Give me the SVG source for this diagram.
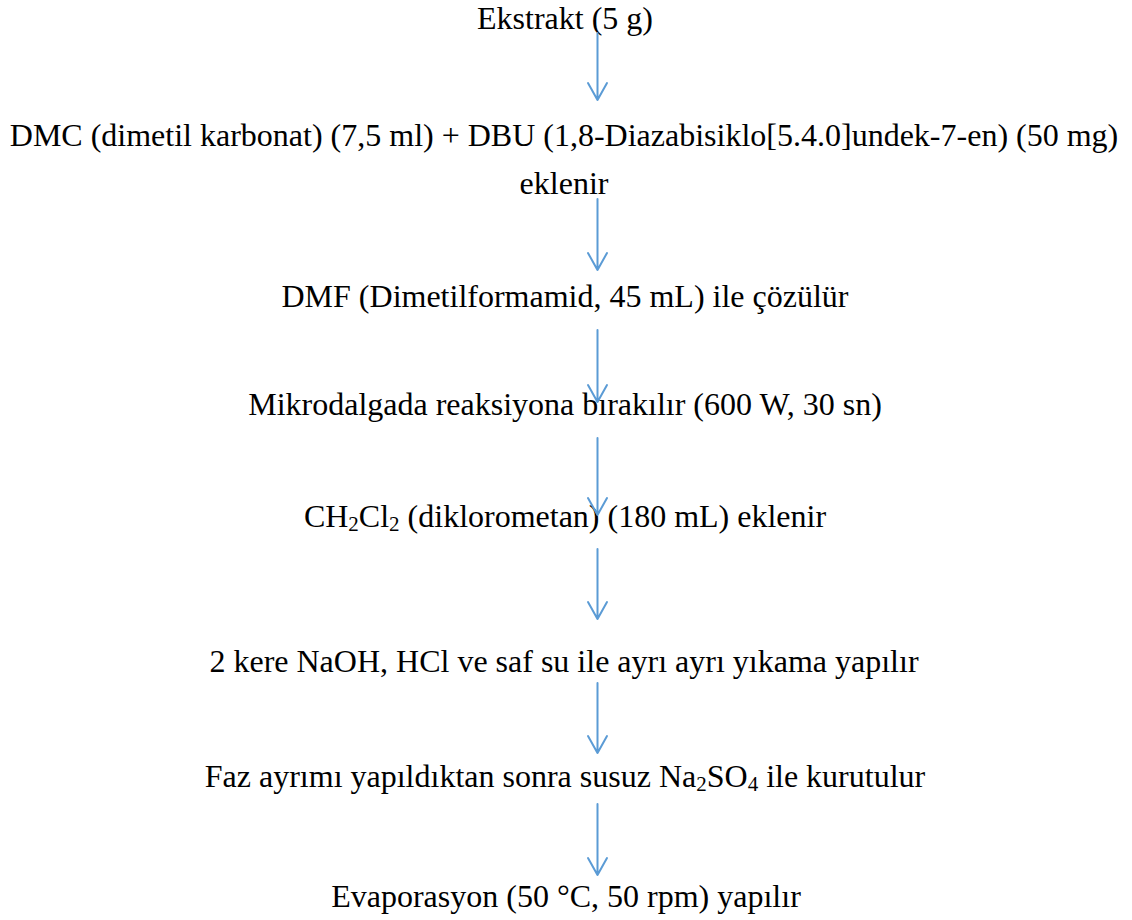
<svg xmlns="http://www.w3.org/2000/svg" width="1132" height="920" viewBox="0 0 1132 920">
<style>
.t{font-family:"Liberation Serif","Times New Roman",serif;font-size:32px;fill:#000;text-anchor:middle}
.s{font-size:21px}
.a{fill:none;stroke:#5B9BD5;stroke-width:2;stroke-linecap:round;stroke-linejoin:round}
</style>
<rect width="1132" height="920" fill="#fff"/>
<g id="n1"><text class="t" x="565" y="29">Ekstrakt (5 g)</text></g>
<g id="n2"><text class="t" x="564" y="146">DMC (dimetil karbonat) (7,5 ml) + DBU (1,8-Diazabisiklo[5.4.0]undek-7-en) (50 mg)</text>
<text class="t" x="564" y="194">eklenir</text></g>
<g id="n3"><text class="t" x="565" y="307">DMF (Dimetilformamid, 45 mL) ile çözülür</text></g>
<g id="n4"><text class="t" x="565" y="415">Mikrodalgada reaksiyona bırakılır (600 W, 30 sn)</text></g>
<g id="n5"><text class="t" x="565" y="527">CH<tspan class="s" dy="4">2</tspan><tspan dy="-4">Cl</tspan><tspan class="s" dy="4">2</tspan><tspan dy="-4"> (diklorometan) (180 mL) eklenir</tspan></text></g>
<g id="n6"><text class="t" x="564" y="672">2 kere NaOH, HCl ve saf su ile ayrı ayrı yıkama yapılır</text></g>
<g id="n7"><text class="t" x="565" y="787">Faz ayrımı yapıldıktan sonra susuz Na<tspan class="s" dy="4">2</tspan><tspan dy="-4">SO</tspan><tspan class="s" dy="4">4</tspan><tspan dy="-4"> ile kurutulur</tspan></text></g>
<g id="n8"><text class="t" x="566" y="907">Evaporasyon (50 °C, 50 rpm) yapılır</text></g>
<g id="connectors">
<path class="a" d="M597.5 33V100M588 83L597.5 100L607 83"/>
<path class="a" d="M597.5 199V270M588 253L597.5 270L607 253"/>
<path class="a" d="M597.5 330V402M588 385L597.5 402L607 385"/>
<path class="a" d="M597.5 438V515M588 498L597.5 515L607 498"/>
<path class="a" d="M597.5 549V619M588 602L597.5 619L607 602"/>
<path class="a" d="M597.5 683V753M588 736L597.5 753L607 736"/>
<path class="a" d="M597.5 804V875M588 858L597.5 875L607 858"/>
</g>
</svg>
